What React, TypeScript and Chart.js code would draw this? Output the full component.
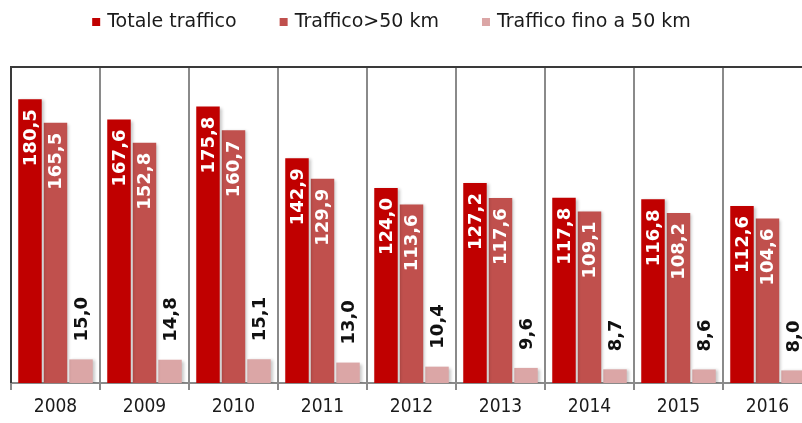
import React, { useEffect, useRef } from 'react';
import { Chart, registerables } from 'chart.js';

Chart.register(...registerables);

const years = ['2008', '2009', '2010', '2011', '2012', '2013', '2014', '2015', '2016'];
const totaleTraffico = [180.5, 167.6, 175.8, 142.9, 124.0, 127.2, 117.8, 116.8, 112.6];
const trafficoOltre50 = [165.5, 152.8, 160.7, 129.9, 113.6, 117.6, 109.1, 108.2, 104.6];
const trafficoFino50 = [15.0, 14.8, 15.1, 13.0, 10.4, 9.6, 8.7, 8.6, 8.0];
const seriesNames = ['Totale traffico', 'Traffico>50 km', 'Traffico fino a 50 km'];
const seriesColors = ['#C00000', '#C0504D', '#DBA6A6'];

const FONT = '"DejaVu Sans Condensed", "DejaVu Sans", sans-serif';
const LEGEND_FONT = '"DejaVu Sans", sans-serif';

const shadowPlugin = {
  id: 'barShadow',
  beforeDatasetsDraw(chart: any) {
    const ctx = chart.ctx;
    ctx.save();
    ctx.shadowColor = 'rgba(0,0,0,0.22)';
    ctx.shadowBlur = 3;
    ctx.shadowOffsetX = 2;
    ctx.shadowOffsetY = 1;
  },
  afterDatasetsDraw(chart: any) {
    chart.ctx.restore();
  },
};

const labelPlugin = {
  id: 'valueLabels',
  afterDatasetsDraw(chart: any) {
    const ctx = chart.ctx;
    chart.data.datasets.forEach((ds: any, di: number) => {
      const meta = chart.getDatasetMeta(di);
      meta.data.forEach((bar: any, i: number) => {
        const v = ds.data[i] as number;
        const txt = v.toFixed(1).replace('.', ',');
        ctx.save();
        ctx.font = `bold 18px ${LEGEND_FONT}`;
        const inside = di < 2;
        ctx.translate(bar.x + 1, inside ? bar.y + 10 : bar.y - 18);
        ctx.rotate(-Math.PI / 2);
        ctx.textAlign = inside ? 'right' : 'left';
        ctx.textBaseline = 'middle';
        ctx.fillStyle = inside ? '#ffffff' : '#111111';
        ctx.fillText(txt, 0, 0);
        ctx.restore();
      });
    });
  },
};

const frameAndLegendPlugin = {
  id: 'frameLegend',
  afterDraw(chart: any) {
    const ctx = chart.ctx;
    const a = chart.chartArea;
    ctx.save();
    ctx.strokeStyle = '#3a3a3a';
    ctx.lineWidth = 2;
    ctx.beginPath();
    ctx.moveTo(a.left, a.bottom);
    ctx.lineTo(a.left, a.top);
    ctx.lineTo(a.right, a.top);
    ctx.stroke();

    // legend
    ctx.font = `19px ${LEGEND_FONT}`;
    const box = 8;
    const gapText = 7;
    const gapItems = 43;
    const widths = seriesNames.map((n) => box + gapText + ctx.measureText(n).width);
    const total = widths.reduce((s, w) => s + w, 0) + gapItems * (seriesNames.length - 1);
    let x = 391.5 - total / 2;
    ctx.textBaseline = 'alphabetic';
    ctx.textAlign = 'left';
    seriesNames.forEach((n, i) => {
      ctx.fillStyle = seriesColors[i];
      ctx.fillRect(x, 18, box, box);
      ctx.fillStyle = '#1a1a1a';
      ctx.fillText(n, x + box + gapText, 27);
      x += widths[i] + gapItems;
    });
    ctx.restore();
  },
};

export default function App() {
  const ref = useRef<HTMLCanvasElement | null>(null);

  useEffect(() => {
    if (!ref.current) return;
    const chart = new Chart(ref.current, {
      type: 'bar',
      data: {
        labels: years,
        datasets: [
          { label: seriesNames[0], data: totaleTraffico, backgroundColor: seriesColors[0] },
          { label: seriesNames[1], data: trafficoOltre50, backgroundColor: seriesColors[1] },
          { label: seriesNames[2], data: trafficoFino50, backgroundColor: seriesColors[2] },
        ],
      },
      options: {
        responsive: false,
        animation: false,
        datasets: {
          bar: { categoryPercentage: 0.86, barPercentage: 0.92, borderWidth: 0 },
        },
        layout: { padding: { top: 67, left: 11, right: 8, bottom: 0 } },
        plugins: {
          legend: { display: false },
          tooltip: { enabled: false },
        },
        scales: {
          x: {
            offset: true,
            grid: {
              display: true,
              offset: true,
              color: '#8a8a8a',
              lineWidth: 2,
              tickLength: 7,
              drawOnChartArea: true,
            },
            border: { color: '#8a8a8a', width: 2 },
            ticks: {
              color: '#1a1a1a',
              font: { family: FONT, size: 19 },
              padding: 6,
              maxRotation: 0,
              autoSkip: false,
            },
            afterFit: (s: any) => {
              s.height = 40;
            },
          },
          y: { display: false, min: 0, max: 201 },
        },
      },
      plugins: [shadowPlugin, labelPlugin, frameAndLegendPlugin],
    });
    return () => chart.destroy();
  }, []);

  return (
    <div style={{ position: 'absolute', left: 0, top: 0, width: 802, height: 423, overflow: 'hidden', background: '#fff' }}>
      <canvas ref={ref} width={820} height={423} style={{ display: 'block' }} />
    </div>
  );
}
